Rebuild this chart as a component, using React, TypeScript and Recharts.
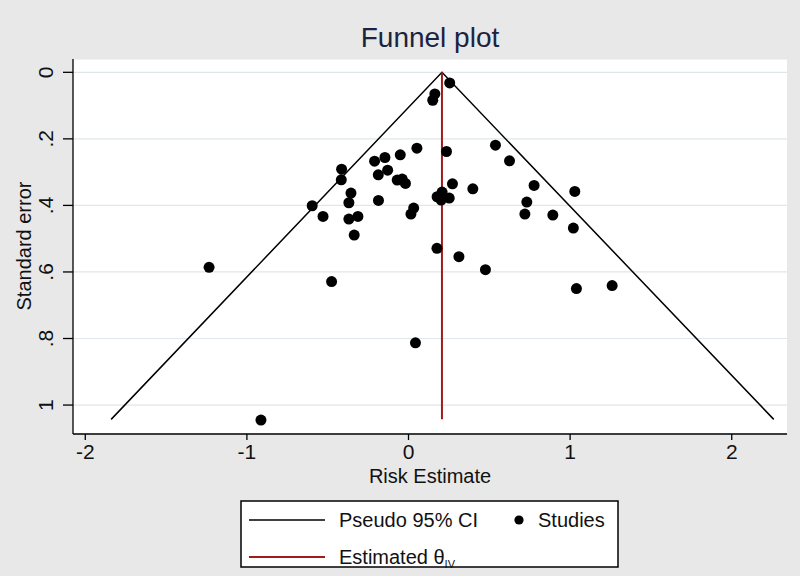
import React from 'react';
import { ComposedChart, Scatter, XAxis, YAxis, CartesianGrid } from 'recharts';

// Study estimates (risk estimate, standard error)
const studyEffect = [
  0.255, 0.163, 0.150, 0.052, -0.051, 0.235, 0.538, 0.625, -0.210, -0.146,
  -0.187, -0.129, -0.414, -0.416, -0.070, -0.039, -0.019, 0.272, 0.398, 0.177,
  0.208, 0.202, 0.252, 0.777, 1.029, 0.732, 0.720, 0.893, 1.020, 0.032,
  0.015, -0.186, -0.356, -0.369, -0.596, -0.529, -0.369, -0.313, -0.336, 0.176,
  0.312, 0.476, -1.234, -0.476, 1.039, 1.260, 0.043, -0.913,
];
const studySE = [
  0.032, 0.065, 0.084, 0.228, 0.248, 0.238, 0.219, 0.266, 0.267, 0.256,
  0.308, 0.294, 0.291, 0.323, 0.324, 0.321, 0.334, 0.335, 0.350, 0.374,
  0.360, 0.384, 0.378, 0.340, 0.358, 0.390, 0.426, 0.429, 0.468, 0.408,
  0.426, 0.385, 0.363, 0.392, 0.401, 0.433, 0.441, 0.433, 0.489, 0.529,
  0.554, 0.593, 0.586, 0.629, 0.650, 0.641, 0.813, 1.045,
];

// Pseudo 95% CI funnel
const funnelX = [-1.84, 0.207, 2.26];
const funnelSE = [1.043, 0, 1.043];

// Estimated theta (IV) line
const thetaX = [0.207, 0.207];
const thetaSE = [0, 1.043];

const xTicks = [-2, -1, 0, 1, 2];
const xTickLabels = ['-2', '-1', '0', '1', '2'];
const yTicks = [0, 0.2, 0.4, 0.6, 0.8, 1];
const yTickLabels = ['0', '.2', '.4', '.6', '.8', '1'];

const studies = studyEffect.map((x, i) => ({ x, y: studySE[i] }));
const funnel = funnelX.map((x, i) => ({ x, y: funnelSE[i] }));
const theta = thetaX.map((x, i) => ({ x, y: thetaSE[i] }));

const FONT = '"Liberation Sans", Arial, sans-serif';
const BG = '#e8e8e8';

const XTick = (props: any) => {
  const { x, payload } = props;
  const idx = xTicks.indexOf(payload.value);
  return (
    <text x={x} y={459} textAnchor="middle" fontSize={21} fontFamily={FONT} fill="#111">
      {idx >= 0 ? xTickLabels[idx] : String(payload.value)}
    </text>
  );
};

const YTick = (props: any) => {
  const { y, payload } = props;
  const idx = yTicks.findIndex((t) => Math.abs(t - payload.value) < 1e-9);
  return (
    <text
      transform={`translate(53, ${y}) rotate(-90)`}
      textAnchor="middle"
      fontSize={21}
      fontFamily={FONT}
      fill="#111"
    >
      {idx >= 0 ? yTickLabels[idx] : String(payload.value)}
    </text>
  );
};

const Dot = (props: any) => {
  const { cx, cy } = props;
  if (cx == null || cy == null) return <g />;
  return <circle cx={cx} cy={cy} r={5.5} fill="#000" />;
};

const NoShape = () => <g />;

export default function App() {
  return (
    <div style={{ position: 'absolute', left: 0, top: 0, width: 800, height: 576, background: BG, overflow: 'hidden' }}>
      <div style={{ position: 'absolute', left: 0, top: 0 }}>
        <ComposedChart
          width={800}
          height={576}
          margin={{ top: 59, right: 13, left: 0, bottom: 0 }}
        >
          <CartesianGrid vertical={false} stroke="#dfe7ea" strokeWidth={1.2} fill="#ffffff" />
          <XAxis
            type="number"
            dataKey="x"
            domain={[-2.076, 2.342]}
            ticks={xTicks}
            allowDataOverflow
            height={142}
            tickSize={6}
            axisLine={{ stroke: '#000', strokeWidth: 1.3 }}
            tickLine={{ stroke: '#000', strokeWidth: 1.3 }}
            tick={<XTick />}
            interval={0}
          />
          <YAxis
            type="number"
            dataKey="y"
            domain={[-0.04, 1.087]}
            reversed
            ticks={yTicks}
            allowDataOverflow
            width={73}
            tickSize={10}
            axisLine={{ stroke: '#000', strokeWidth: 1.3 }}
            tickLine={{ stroke: '#000', strokeWidth: 1.3 }}
            tick={<YTick />}
            interval={0}
          />
          <Scatter
            data={funnel}
            line={{ stroke: '#000', strokeWidth: 1.5 }}
            shape={NoShape}
            isAnimationActive={false}
          />
          <Scatter
            data={theta}
            line={{ stroke: '#a01c1c', strokeWidth: 2 }}
            shape={NoShape}
            isAnimationActive={false}
          />
          <Scatter data={studies} shape={Dot} isAnimationActive={false} />
        </ComposedChart>
      </div>
      <svg
        width={800}
        height={576}
        style={{ position: 'absolute', left: 0, top: 0, pointerEvents: 'none' }}
      >
        <text x={430} y={47} textAnchor="middle" fontSize={28} fontFamily={FONT} fill="#1b2340">
          Funnel plot
        </text>
        <text x={430} y={483} textAnchor="middle" fontSize={20} fontFamily={FONT} fill="#111">
          Risk Estimate
        </text>
        <text
          transform="translate(31, 246) rotate(-90)"
          textAnchor="middle"
          fontSize={20}
          fontFamily={FONT}
          fill="#111"
        >
          Standard error
        </text>
        <rect x={241} y={501} width={377} height={66} fill="#fff" stroke="#000" strokeWidth={1.5} />
        <line x1={249} x2={325} y1={520} y2={520} stroke="#000" strokeWidth={1.3} />
        <text x={339} y={527} fontSize={20} fontFamily={FONT} fill="#111">
          Pseudo 95% CI
        </text>
        <circle cx={519} cy={520} r={4.6} fill="#000" />
        <text x={538} y={527} fontSize={20} fontFamily={FONT} fill="#111">
          Studies
        </text>
        <line x1={249} x2={325} y1={557} y2={557} stroke="#a01c1c" strokeWidth={1.8} />
        <text x={339} y={564} fontSize={20} fontFamily={FONT} fill="#111">
          Estimated θ
          <tspan fontSize={11} dy={4}>IV</tspan>
        </text>
      </svg>
    </div>
  );
}
